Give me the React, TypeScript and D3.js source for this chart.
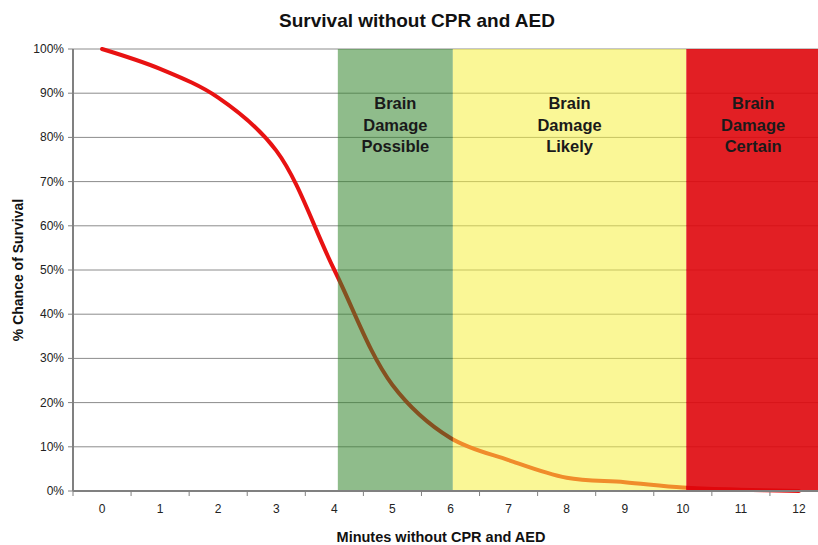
import * as d3 from "d3";
import { useEffect, useRef } from "react";

// chart values
const minutes = [0, 1, 2, 3, 4, 5, 6, 7, 8, 9, 10, 11, 12];
const survival = [100, 95.5, 89, 77, 50, 24, 12, 7, 3, 2, 0.8, 0.3, 0];
const yTicks = [0, 10, 20, 30, 40, 50, 60, 70, 80, 90, 100];

const zoneStarts = [4.06, 6.04, 10.06];
const zoneEnds = [6.04, 10.06, 12.5];
const zoneColors = ["rgb(51,133,44)", "rgb(245,240,63)", "rgb(223,7,12)"];
const zoneOpacity = [0.55, 0.55, 0.9];
const zoneLabels = [
  ["Brain", "Damage", "Possible"],
  ["Brain", "Damage", "Likely"],
  ["Brain", "Damage", "Certain"],
];

const FONT = "'Liberation Sans', Arial, Helvetica, sans-serif";

const App = () => {
  const svgRef = useRef(null);

  useEffect(() => {
    const w = 818;
    const h = 545;
    const svg = d3.select(svgRef.current).attr("width", w).attr("height", h);
    svg.selectAll("*").remove();

    const left = 73;
    const right = 828;
    const top = 49;
    const bottom = 491;

    const x = d3.scaleLinear().domain([-0.5, 12.5]).range([left, right]);
    const y = d3.scaleLinear().domain([0, 100]).range([bottom, top]);

    svg.append("rect").attr("width", w).attr("height", h).attr("fill", "#fff");

    // gridlines
    svg
      .append("g")
      .selectAll("line")
      .data(yTicks)
      .enter()
      .append("line")
      .attr("x1", left)
      .attr("x2", right)
      .attr("y1", (d) => y(d))
      .attr("y2", (d) => y(d))
      .attr("stroke", "#8c8c8c")
      .attr("stroke-width", 1);

    // survival line (smoothed like the excel one)
    const line = d3
      .line<number>()
      .x((d, i) => x(minutes[i]))
      .y((d) => y(d))
      .curve(d3.curveCatmullRom.alpha(0.5));

    svg
      .append("path")
      .datum(survival)
      .attr("d", line)
      .attr("fill", "none")
      .attr("stroke", "rgb(232,18,18)")
      .attr("stroke-width", 4)
      .attr("stroke-linecap", "round");

    // translucent zones drawn over the line
    zoneStarts.forEach((s, i) => {
      svg
        .append("rect")
        .attr("x", x(s))
        .attr("y", y(100))
        .attr("width", x(zoneEnds[i]) - x(s))
        .attr("height", y(0) - y(100))
        .attr("fill", zoneColors[i])
        .attr("fill-opacity", zoneOpacity[i]);

      const cx = i === 2 ? (x(s) + w) / 2 + 1 : (x(s) + x(zoneEnds[i])) / 2;
      zoneLabels[i].forEach((t, j) => {
        svg
          .append("text")
          .attr("x", cx)
          .attr("y", 109 + j * 21.5)
          .attr("text-anchor", "middle")
          .attr("font-family", FONT)
          .attr("font-weight", "bold")
          .attr("font-size", 16.5)
          .attr("fill", "#1a1a1a")
          .text(t);
      });
    });

    // axes lines
    svg
      .append("line")
      .attr("x1", left)
      .attr("x2", left)
      .attr("y1", top)
      .attr("y2", bottom)
      .attr("stroke", "#808080")
      .attr("stroke-width", 2);
    svg
      .append("line")
      .attr("x1", left)
      .attr("x2", right)
      .attr("y1", bottom)
      .attr("y2", bottom)
      .attr("stroke", "#808080")
      .attr("stroke-width", 2);

    // y ticks + labels
    const yg = svg.append("g");
    yTicks.forEach((t) => {
      yg.append("line")
        .attr("x1", left - 5)
        .attr("x2", left)
        .attr("y1", y(t))
        .attr("y2", y(t))
        .attr("stroke", "#808080");
      yg.append("text")
        .attr("x", 64)
        .attr("y", y(t) + 4)
        .attr("text-anchor", "end")
        .attr("font-family", FONT)
        .attr("font-size", 12)
        .attr("fill", "#222")
        .text(t + "%");
    });

    // x ticks at category edges + labels
    const xg = svg.append("g");
    d3.range(-0.5, 13, 1).forEach((b) => {
      xg.append("line")
        .attr("x1", x(b))
        .attr("x2", x(b))
        .attr("y1", bottom)
        .attr("y2", bottom + 5)
        .attr("stroke", "#808080");
    });
    minutes.forEach((m) => {
      xg.append("text")
        .attr("x", x(m))
        .attr("y", 513)
        .attr("text-anchor", "middle")
        .attr("font-family", FONT)
        .attr("font-size", 12)
        .attr("fill", "#222")
        .text(m);
    });

    // titles
    svg
      .append("text")
      .attr("x", 417)
      .attr("y", 27)
      .attr("text-anchor", "middle")
      .attr("font-family", FONT)
      .attr("font-weight", "bold")
      .attr("font-size", 19)
      .attr("fill", "#111")
      .text("Survival without CPR and AED");

    svg
      .append("text")
      .attr("x", 441)
      .attr("y", 542)
      .attr("text-anchor", "middle")
      .attr("font-family", FONT)
      .attr("font-weight", "bold")
      .attr("font-size", 14.5)
      .attr("fill", "#111")
      .text("Minutes without CPR and AED");

    svg
      .append("text")
      .attr("transform", `translate(23,${(top + bottom) / 2}) rotate(-90)`)
      .attr("text-anchor", "middle")
      .attr("font-family", FONT)
      .attr("font-weight", "bold")
      .attr("font-size", 14)
      .attr("fill", "#111")
      .text("% Chance of Survival");
  }, []);

  return (
    <div>
      <svg
        ref={svgRef}
        style={{ position: "absolute", left: 0, top: 0, overflow: "hidden" }}
      ></svg>
    </div>
  );
};

export default App;
